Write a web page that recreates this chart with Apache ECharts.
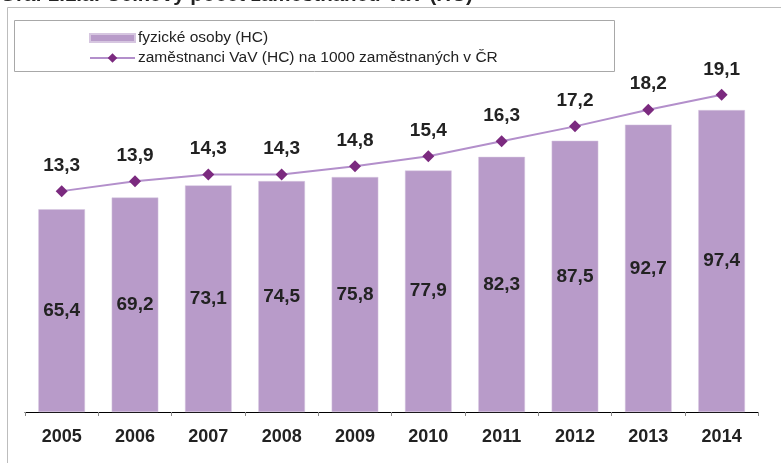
<!DOCTYPE html>
<html><head><meta charset="utf-8">
<script src="https://cdn.jsdelivr.net/npm/echarts@6/dist/echarts.min.js"></script>
<style>html,body{margin:0;padding:0;background:#fff}#c{width:781px;height:463px}</style>
</head><body><div id="c"></div>
<script>
const years = ['2005','2006','2007','2008','2009','2010','2011','2012','2013','2014'];
const headcount = [65.4, 69.2, 73.1, 74.5, 75.8, 77.9, 82.3, 87.5, 92.7, 97.4];
const perThousand = [13.3, 13.9, 14.3, 14.3, 14.8, 15.4, 16.3, 17.2, 18.2, 19.1];
const seriesNames = ['fyzické osoby (HC)', 'zaměstnanci VaV (HC) na 1000 zaměstnaných v ČR'];
const titleText = 'Graf 1.1.a: Celkový počet zaměstnanců VaV (HC)';

const chart = echarts.init(document.getElementById('c'), null, {renderer: 'canvas'});
const fmt = p => String(p.value).replace('.', ',');
const legendText = {fontSize: 15.5, color: '#222', fontFamily: 'Liberation Sans, Arial', padding: [0, 0, 0, -2]};
chart.setOption({
  animation: false,
  backgroundColor: '#fff',
  textStyle: {fontFamily: 'Liberation Sans, Arial, sans-serif'},
  graphic: [
    {type: 'text', left: 0, top: -15, style: {text: titleText, font: 'bold 20.5px "Liberation Sans", Arial', fill: '#222'}},
    {type: 'polyline', shape: {points: [[7.5, 463], [7.5, 7.5], [781, 7.5]]}, style: {stroke: '#bdbdbd', lineWidth: 1, fill: null}},
    {type: 'rect', shape: {x: 14.5, y: 20.5, width: 600, height: 51}, style: {stroke: '#a8a8a8', lineWidth: 1, fill: null}}
  ],
  legend: [
    {left: 84, top: 25, itemWidth: 45, itemHeight: 8, textStyle: legendText,
     data: [{name: seriesNames[0], icon: 'rect'}]},
    {left: 84, top: 45, itemWidth: 45, itemHeight: 12, textStyle: legendText,
     data: [{name: seriesNames[1]}]}
  ],
  grid: {left: 25, right: 22.7, top: 40, bottom: 51, containLabel: false},
  xAxis: {
    type: 'category', data: years,
    axisLine: {lineStyle: {color: '#000', width: 1}},
    axisTick: {show: true, length: 4, lineStyle: {color: '#888'}},
    axisLabel: {margin: 16, fontSize: 18, fontWeight: 'bold', color: '#222', fontFamily: 'Liberation Sans, Arial'}
  },
  yAxis: [
    {type: 'value', min: 0, max: 120, show: false, splitLine: {show: false}},
    {type: 'value', min: 0, max: 22.4, show: false, splitLine: {show: false}}
  ],
  series: [
    {
      name: seriesNames[0], type: 'bar', data: headcount, barWidth: '63.6%',
      itemStyle: {color: '#b89bc9', borderColor: '#d6c6e0', borderWidth: 0.5},
      label: {show: true, position: 'inside', formatter: fmt, fontSize: 19, fontWeight: 'bold', color: '#222', fontFamily: 'Liberation Sans, Arial'}
    },
    {
      name: seriesNames[1], type: 'line', yAxisIndex: 1, data: perThousand,
      symbol: 'diamond', symbolSize: 12,
      lineStyle: {color: '#b38fcb', width: 2},
      itemStyle: {color: '#7b2a7f'},
      label: {show: true, position: 'top', distance: 10, formatter: fmt, fontSize: 19, fontWeight: 'bold', color: '#222', fontFamily: 'Liberation Sans, Arial'}
    }
  ]
});
</script></body></html>
